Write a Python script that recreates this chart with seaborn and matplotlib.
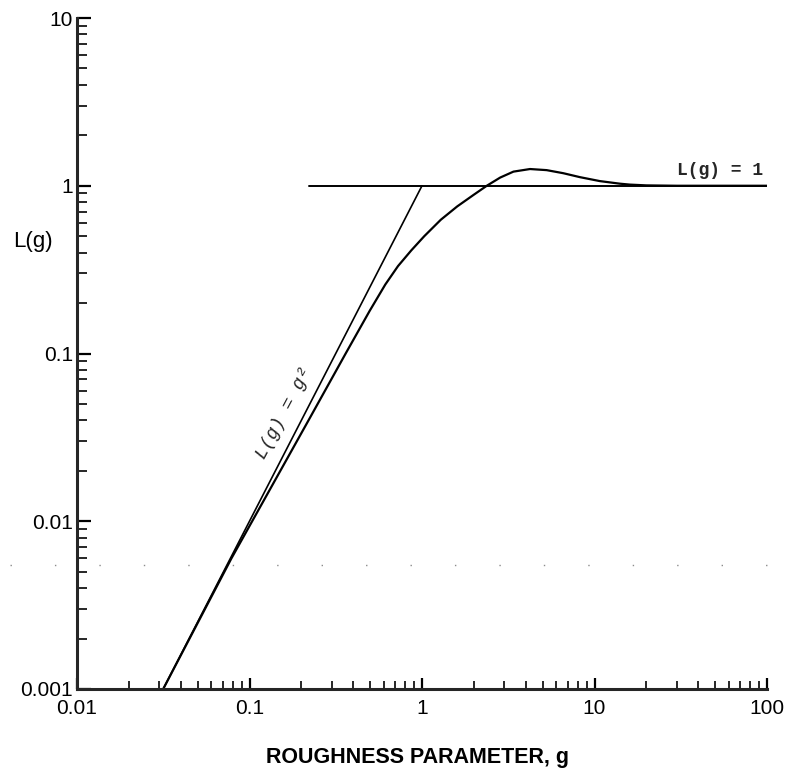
import numpy as np
import pandas as pd
import matplotlib
matplotlib.use("Agg")
import matplotlib.pyplot as plt
import seaborn as sns
from matplotlib.ticker import FixedLocator, FixedFormatter, LogLocator, NullFormatter
from matplotlib.lines import Line2D

# ---- data ----
g_curve = [0.0316, 0.0785, 0.151, 0.220, 0.361, 0.498, 0.613, 0.726, 0.867, 1.03,
           1.285, 1.60, 1.99, 2.375, 2.84, 3.39, 4.23, 5.28, 6.59, 8.24, 10.74,
           14.0, 16.0, 20.0, 30.0, 100.0]
L_curve = [0.001, 0.006, 0.020, 0.040, 0.100, 0.180, 0.258, 0.332, 0.412, 0.500,
           0.627, 0.753, 0.882, 1.000, 1.119, 1.214, 1.258, 1.239, 1.188, 1.125, 1.066,
           1.029, 1.016, 1.005, 1.000, 1.000]

g_square = [0.0316, 1.0]      # L(g) = g^2 asymptote
L_square = [0.001, 1.0]

g_one = [0.22, 100.0]          # L(g) = 1 asymptote
L_one = [1.0, 1.0]

x_ticks = [0.01, 0.1, 1, 10, 100]
x_tick_labels = ["0.01", "0.1", "1", "10", "100"]
y_ticks = [0.001, 0.01, 0.1, 1, 10]
y_tick_labels = ["0.001", "0.01", "0.1", "1", "10"]

sns.set_style("ticks")
plt.rcParams["font.family"] = ["Liberation Sans", "DejaVu Sans"]

fig = plt.figure(figsize=(7.86, 7.83), dpi=100)
W, H = 786, 783
ax = fig.add_axes([77 / W, (H - 689) / H, (767 - 77) / W, (689 - 18) / H])
ax.set_xscale("log")
ax.set_yscale("log")

df_c = pd.DataFrame({"g": g_curve, "L": L_curve})
df_s = pd.DataFrame({"g": g_square, "L": L_square})
df_o = pd.DataFrame({"g": g_one, "L": L_one})
sns.lineplot(data=df_c, x="g", y="L", ax=ax, color="black", lw=1.6, sort=False, estimator=None)
sns.lineplot(data=df_s, x="g", y="L", ax=ax, color="black", lw=1.2, sort=False, estimator=None)
sns.lineplot(data=df_o, x="g", y="L", ax=ax, color="black", lw=1.4, sort=False, estimator=None)

ax.set_xlim(0.01, 100)
ax.set_ylim(0.001, 10)

for s in ["top", "right"]:
    ax.spines[s].set_visible(False)
for s in ["left", "bottom"]:
    ax.spines[s].set_linewidth(2.2)

ax.xaxis.set_major_locator(FixedLocator(x_ticks))
ax.xaxis.set_major_formatter(FixedFormatter(x_tick_labels))
ax.yaxis.set_major_locator(FixedLocator(y_ticks))
ax.yaxis.set_major_formatter(FixedFormatter(y_tick_labels))
ax.xaxis.set_minor_locator(LogLocator(base=10, subs=np.arange(2, 10)))
ax.yaxis.set_minor_locator(LogLocator(base=10, subs=np.arange(2, 10)))
ax.xaxis.set_minor_formatter(NullFormatter())
ax.yaxis.set_minor_formatter(NullFormatter())

ax.tick_params(axis="x", which="major", direction="in", length=8, width=1.6,
               labelsize=15, pad=7, colors="black")
ax.tick_params(axis="x", which="minor", direction="in", length=6, width=1.4)
ax.tick_params(axis="y", which="major", direction="in", length=10, width=1.6,
               labelsize=15, pad=3, colors="black")
ax.tick_params(axis="y", which="minor", direction="in", length=7, width=1.4)
ax.set_xlabel("")
ax.set_ylabel("")

fig.text(0.531, 1 - 757 / H, "ROUGHNESS PARAMETER, g", ha="center", va="center",
         fontsize=15.5, fontweight="bold", color="black")
fig.text(33 / W, 1 - 241 / H, "L(g)", ha="center", va="center", fontsize=16, color="black")

ax.text(53.5, 1.23, "L(g) = 1", family=["Liberation Mono", "DejaVu Sans Mono"],
        fontsize=13, fontweight="bold", ha="center", va="center")
ax.text(0.158, 0.0442, "L(g) = g\u00b2", family=["Liberation Mono", "DejaVu Sans Mono"],
        fontsize=13.5, rotation=62, rotation_mode="anchor", ha="center", va="center",
        style="italic")

# faint dotted scan line across the page
fig.add_artist(Line2D([10 / W, 770 / W], [1 - 565 / H] * 2, transform=fig.transFigure,
                      color="0.55", lw=1.0, linestyle=(0, (1, 31))))

fig.savefig("out.png", dpi=100)
